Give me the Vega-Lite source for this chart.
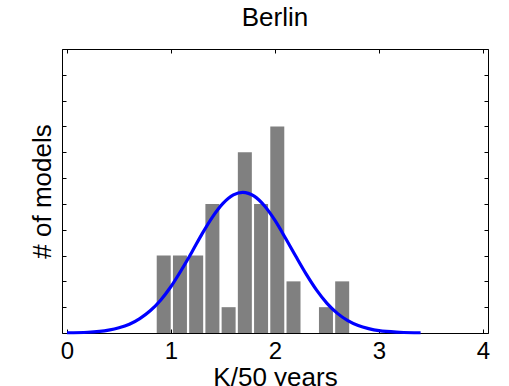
{
  "$schema": "https://vega.github.io/schema/vega-lite/v6.json",
  "width": 426,
  "height": 284,
  "autosize": {"type": "none"},
  "padding": {"left": 62, "top": 49, "right": 21, "bottom": 53},
  "background": "white",
  "title": {"text": "Berlin", "fontSize": 26, "font": "Liberation Sans", "fontWeight": "normal", "color": "black", "baseline": "alphabetic", "offset": 22, "dy": 25, "anchor": "middle"},
  "config": {
    "view": {"stroke": "black", "strokeWidth": 1},
    "axis": {"domain": false, "grid": false, "tickColor": "black", "tickWidth": 1, "labelFlush": false, "labelFont": "Liberation Sans", "titleFont": "Liberation Sans", "labelColor": "black", "titleColor": "black", "titleFontWeight": "normal"}
  },
  "datasets": {
    "bars": [
      {"k": 0.930, "n": 3},
      {"k": 1.086, "n": 3},
      {"k": 1.242, "n": 3},
      {"k": 1.398, "n": 5},
      {"k": 1.554, "n": 1},
      {"k": 1.710, "n": 7},
      {"k": 1.866, "n": 5},
      {"k": 2.022, "n": 8},
      {"k": 2.178, "n": 2},
      {"k": 2.334, "n": 0},
      {"k": 2.490, "n": 1},
      {"k": 2.646, "n": 2}
    ],
    "curve": [
      {"k": 0.0, "density": 0.01},
      {"k": 0.2, "density": 0.03},
      {"k": 0.4, "density": 0.11},
      {"k": 0.5, "density": 0.2},
      {"k": 0.6, "density": 0.34},
      {"k": 0.7, "density": 0.56},
      {"k": 0.8, "density": 0.86},
      {"k": 0.9, "density": 1.27},
      {"k": 1.0, "density": 1.8},
      {"k": 1.1, "density": 2.44},
      {"k": 1.2, "density": 3.13},
      {"k": 1.3, "density": 3.85},
      {"k": 1.4, "density": 4.5},
      {"k": 1.5, "density": 5.02},
      {"k": 1.6, "density": 5.35},
      {"k": 1.69, "density": 5.45},
      {"k": 1.8, "density": 5.3},
      {"k": 1.9, "density": 4.92},
      {"k": 2.0, "density": 4.36},
      {"k": 2.1, "density": 3.68},
      {"k": 2.2, "density": 2.97},
      {"k": 2.3, "density": 2.28},
      {"k": 2.4, "density": 1.66},
      {"k": 2.5, "density": 1.15},
      {"k": 2.6, "density": 0.76},
      {"k": 2.7, "density": 0.48},
      {"k": 2.8, "density": 0.29},
      {"k": 2.9, "density": 0.17},
      {"k": 3.0, "density": 0.09},
      {"k": 3.2, "density": 0.03},
      {"k": 3.4, "density": 0.01}
    ]
  },
  "layer": [
    {
      "data": {"name": "bars"},
      "mark": {"type": "bar", "color": "#808080", "width": 14},
      "encoding": {
        "x": {"field": "k", "type": "quantitative", "scale": {"domain": [0, 4], "nice": false},
          "axis": {"orient": "bottom", "values": [0, 1, 2, 3, 4], "tickSize": -4, "labelFlush": false, "labelAlign": "center", "labelFontSize": 24, "labelPadding": 10, "format": "d", "title": "K/50 years", "titleFontSize": 26, "titleBaseline": "alphabetic", "titleY": 52}},
        "y": {"field": "n", "type": "quantitative", "scale": {"domain": [0, 11], "nice": false},
          "axis": {"orient": "left", "values": [0, 1, 2, 3, 4, 5, 6, 7, 8, 9, 10, 11], "tickSize": -4, "labels": false, "title": "# of models", "titleFontSize": 26, "titleX": -12, "titleBaseline": "alphabetic"}}
      }
    },
    {
      "data": {"name": "curve"},
      "mark": {"type": "line", "color": "#0000ff", "strokeWidth": 3.2, "interpolate": "monotone"},
      "encoding": {
        "x": {"field": "k", "type": "quantitative",
          "axis": {"orient": "top", "values": [0, 1, 2, 3, 4], "tickSize": -4, "labels": false, "title": null}},
        "y": {"field": "density", "type": "quantitative",
          "axis": {"orient": "right", "values": [0, 1, 2, 3, 4, 5, 6, 7, 8, 9, 10, 11], "tickSize": -4, "labels": false, "title": null}}
      }
    }
  ],
  "resolve": {"axis": {"x": "independent", "y": "independent"}}
}
